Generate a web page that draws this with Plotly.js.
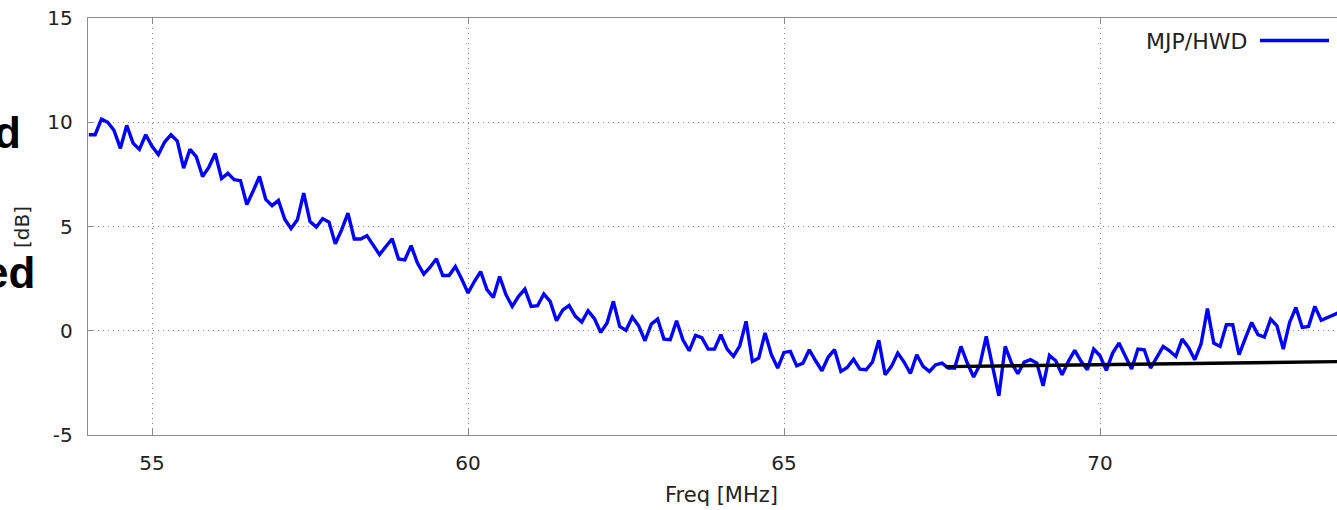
<!DOCTYPE html>
<html>
<head>
<meta charset="utf-8">
<script src="https://cdn.plot.ly/plotly-3.0.1.min.js"></script>
<style>html,body{margin:0;padding:0;background:#fff;}#chart{width:1337px;height:510px;}</style>
</head>
<body>
<div id="chart"></div>
<script>
// Frequency sweep [MHz]
const freqMHz = [
54.0,54.1,54.2,54.3,54.4,54.5,54.6,54.7,54.8,54.9,
55.0,55.1,55.2,55.3,55.4,55.5,55.6,55.7,55.8,55.9,
56.0,56.1,56.2,56.3,56.4,56.5,56.6,56.7,56.8,56.9,
57.0,57.1,57.2,57.3,57.4,57.5,57.6,57.7,57.8,57.9,
58.0,58.1,58.2,58.3,58.4,58.5,58.6,58.7,58.8,58.9,
59.0,59.1,59.2,59.3,59.4,59.5,59.6,59.7,59.8,59.9,
60.0,60.1,60.2,60.3,60.4,60.5,60.6,60.7,60.8,60.9,
61.0,61.1,61.2,61.3,61.4,61.5,61.6,61.7,61.8,61.9,
62.0,62.1,62.2,62.3,62.4,62.5,62.6,62.7,62.8,62.9,
63.0,63.1,63.2,63.3,63.4,63.5,63.6,63.7,63.8,63.9,
64.0,64.1,64.2,64.3,64.4,64.5,64.6,64.7,64.8,64.9,
65.0,65.1,65.2,65.3,65.4,65.5,65.6,65.7,65.8,65.9,
66.0,66.1,66.2,66.3,66.4,66.5,66.6,66.7,66.8,66.9,
67.0,67.1,67.2,67.3,67.4,67.5,67.6,67.7,67.8,67.9,
68.0,68.1,68.2,68.3,68.4,68.5,68.6,68.7,68.8,68.9,
69.0,69.1,69.2,69.3,69.4,69.5,69.6,69.7,69.8,69.9,
70.0,70.1,70.2,70.3,70.4,70.5,70.6,70.7,70.8,70.9,
71.0,71.1,71.2,71.3,71.4,71.5,71.6,71.7,71.8,71.9,
72.0,72.1,72.2,72.3,72.4,72.5,72.6,72.7,72.8,72.9,
73.0,73.1,73.2,73.3,73.4,73.5,73.6,73.7,73.8
];

// MJP/HWD ratio [dB]
const mjpHwdDb = [
9.4,9.4,10.15,10.0,9.6,8.75,9.85,9.0,8.7,9.4,
8.85,8.45,9.05,9.4,9.1,7.8,8.7,8.35,7.4,7.85,
8.5,7.3,7.55,7.25,7.2,6.05,6.7,7.4,6.3,6.0,
6.25,5.35,4.9,5.32,6.6,5.24,4.97,5.37,5.21,4.17,
4.84,5.64,4.4,4.4,4.56,4.08,3.65,4.04,4.41,3.44,
3.4,4.08,3.25,2.72,3.05,3.45,2.65,2.65,3.08,2.48,
1.81,2.36,2.84,1.97,1.6,2.6,1.73,1.17,1.65,2.0,
1.17,1.2,1.76,1.41,0.48,1.0,1.21,0.69,0.42,0.96,
0.58,-0.08,0.37,1.41,0.21,0.02,0.66,0.24,-0.48,0.32,
0.56,-0.4,-0.43,0.48,-0.43,-0.96,-0.22,-0.33,-0.88,-0.88,
-0.19,-0.88,-1.23,-0.72,0.45,-1.47,-1.31,-0.11,-1.15,-1.79,
-1.04,-0.99,-1.68,-1.55,-0.91,-1.44,-1.92,-1.26,-0.91,-1.95,
-1.76,-1.36,-1.84,-1.87,-1.5,-0.46,-2.11,-1.71,-1.07,-1.5,
-2.05,-1.15,-1.71,-1.95,-1.63,-1.55,-1.79,-1.79,-0.75,-1.55,
-2.22,-1.63,-0.27,-1.71,-3.12,-0.75,-1.55,-2.06,-1.5,-1.39,
-1.55,-2.64,-1.18,-1.44,-2.11,-1.47,-0.94,-1.47,-1.87,-0.88,
-1.2,-1.9,-1.07,-0.59,-1.2,-1.84,-0.88,-0.91,-1.79,-1.23,
-0.75,-0.96,-1.23,-0.4,-0.8,-1.39,-0.62,1.06,-0.59,-0.75,
0.29,0.29,-1.15,-0.35,0.4,-0.19,-0.3,0.56,0.24,-0.88,
0.4,1.12,0.16,0.21,1.17,0.5,0.64,0.8,0.9
];

// Linear fit segment
const fitFreq = [67.55, 74.0];
const fitDb = [-1.72, -1.47];

const xTicks = [55, 60, 65, 70];
const yTicks = [-5, 0, 5, 10, 15];
const seriesName = 'MJP/HWD';

const FONT = 'DejaVu Sans, sans-serif';
const W = 1337, H = 510, L = 88, R = 0, T = 18, B = 75;
const pw = W - L - R, ph = H - T - B;
const px2x = p => (p - L) / pw;
const px2y = p => (H - B - p) / ph;

const traces = [
  {x: freqMHz, y: mjpHwdDb, type: 'scatter', mode: 'lines', name: seriesName,
   line: {color: '#0000ff', width: 3.4}, showlegend: false},
  {x: fitFreq, y: fitDb, type: 'scatter', mode: 'lines', name: 'fit',
   line: {color: '#000000', width: 3.4}, showlegend: false}
];

const axisCommon = {
  showgrid: true, gridcolor: '#8a8a8a', griddash: '1px,4px', gridwidth: 1,
  showline: true, linecolor: '#8c8c8c', linewidth: 1.3,
  ticks: 'inside', ticklen: 6, tickcolor: '#8c8c8c', tickwidth: 1,
  zeroline: false, tickfont: {family: FONT, size: 20, color: '#222'}
};

const layout = {
  width: W, height: H,
  margin: {l: L, r: R, t: T, b: B, pad: 0},
  paper_bgcolor: '#fff', plot_bgcolor: '#fff',
  showlegend: false,
  xaxis: Object.assign({}, axisCommon, {
    range: [53.987, 73.75], tickmode: 'array', tickvals: xTicks,
    ticktext: xTicks.map(String), mirror: 'ticks', ticklabelstandoff: 10
  }),
  yaxis: Object.assign({}, axisCommon, {
    range: [-5, 15], tickmode: 'array', tickvals: yTicks,
    ticktext: yTicks.map(String), ticklabelstandoff: 10
  }),
  shapes: [
    {type: 'line', xref: 'paper', yref: 'paper', x0: px2x(1260), x1: px2x(1329),
     y0: px2y(40.5), y1: px2y(40.5), line: {color: '#0000ff', width: 3.4}}
  ],
  annotations: [
    {text: seriesName, xref: 'paper', yref: 'paper', x: px2x(1249), y: px2y(41),
     xanchor: 'right', yanchor: 'middle', showarrow: false,
     font: {family: FONT, size: 22, color: '#222'}},
    {text: 'Freq [MHz]', xref: 'paper', yref: 'paper', x: px2x(721), y: px2y(495),
     xanchor: 'center', yanchor: 'middle', showarrow: false,
     font: {family: FONT, size: 21, color: '#222'}},
    {text: '[dB]', xref: 'paper', yref: 'paper', x: px2x(22), y: px2y(227),
     xanchor: 'center', yanchor: 'middle', textangle: -90, showarrow: false,
     font: {family: FONT, size: 20, color: '#222'}},
    {text: '<b>d</b>', xref: 'paper', yref: 'paper', x: px2x(23), y: px2y(132),
     xanchor: 'right', yanchor: 'middle', showarrow: false,
     font: {family: 'Liberation Sans, Arial, sans-serif', size: 44, color: '#000'}},
    {text: '<b>ed</b>', xref: 'paper', yref: 'paper', x: px2x(37), y: px2y(272),
     xanchor: 'right', yanchor: 'middle', showarrow: false,
     font: {family: 'Liberation Sans, Arial, sans-serif', size: 44, color: '#000'}}
  ]
};

Plotly.newPlot('chart', traces, layout, {displayModeBar: false, staticPlot: true});
</script>
</body>
</html>
